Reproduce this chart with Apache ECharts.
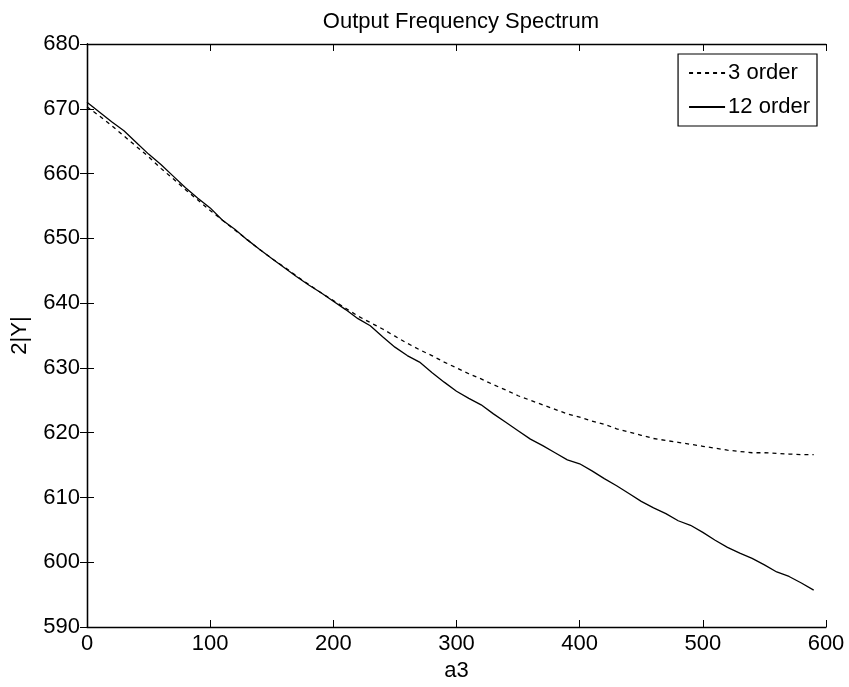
<!DOCTYPE html>
<html>
<head>
<meta charset="utf-8">
<script src="https://cdn.jsdelivr.net/npm/echarts@6/dist/echarts.min.js"></script>
<style>
html,body{margin:0;padding:0;background:#fff;}
#chart{width:849px;height:687px;}
</style>
</head>
<body>
<div id="chart"></div>
<script>
const a3 = [0,10,20,30,40,50,60,70,80,90,100,110,120,130,140,150,160,170,180,190,200,210,220,230,240,250,260,270,280,290,300,310,320,330,340,350,360,370,380,390,400,410,420,430,440,450,460,470,480,490,500,510,520,530,540,550,560,570,580,590];
const order3 = [670.3,668.9,667.4,665.8,664.2,662.6,660.8,659.2,657.5,655.9,654.3,652.8,651.3,649.8,648.3,646.9,645.6,644.2,642.9,641.6,640.4,639.2,638.0,637.0,636.0,634.9,633.8,632.8,631.9,630.9,630.0,629.1,628.3,627.4,626.6,625.7,625.0,624.3,623.6,622.9,622.4,621.8,621.3,620.6,620.1,619.6,619.1,618.8,618.5,618.2,617.9,617.6,617.3,617.1,616.9,616.9,616.8,616.7,616.6,616.6];
const order12 = [671.0,669.5,668.0,666.6,664.8,663.0,661.4,659.6,657.8,656.2,654.7,652.8,651.4,649.8,648.3,646.9,645.5,644.1,642.8,641.6,640.3,639.0,637.6,636.5,634.8,633.2,631.9,630.9,629.3,627.8,626.4,625.3,624.3,622.9,621.6,620.3,619.0,618.0,616.9,615.8,615.2,614.1,612.9,611.8,610.6,609.4,608.4,607.5,606.4,605.7,604.6,603.4,602.3,601.4,600.6,599.6,598.5,597.8,596.8,595.7];
const seriesNames = ['3 order', '12 order'];
const titleText = 'Output Frequency Spectrum';
const xName = 'a3';
const yName = '2|Y|';

const FONT = '"Liberation Sans", Arial, sans-serif';
const chart = echarts.init(document.getElementById('chart'), null, {renderer: 'canvas'});
const axisCommon = {
  axisLine: {show: true, lineStyle: {color: '#000', width: 1.3}},
  axisTick: {show: true, inside: true, length: 7, lineStyle: {color: '#000', width: 1}},
  splitLine: {show: false}
};
chart.setOption({
  animation: false,
  backgroundColor: '#fff',
  title: {
    text: titleText, left: 456, top: 6, textAlign: 'center',
    textStyle: {fontFamily: FONT, fontSize: 22, fontWeight: 'normal', color: '#000'}
  },
  grid: {left: 87, right: 23, top: 44, bottom: 60},
  legend: {
    data: seriesNames, orient: 'vertical', right: 32, top: 54,
    itemWidth: 36, itemHeight: 14, itemGap: 12,
    padding: [8, 7, 8, 10],
    borderColor: '#000', borderWidth: 1.2, backgroundColor: '#fff',
    itemStyle: {color: 'rgba(0,0,0,0)', borderWidth: 0, opacity: 0},
    textStyle: {fontFamily: FONT, fontSize: 22, color: '#000', padding: [0,0,0,-2]}
  },
  xAxis: [
    Object.assign({}, axisCommon, {
      type: 'value', min: 0, max: 600, interval: 100, position: 'bottom',
      name: xName, nameLocation: 'middle', nameGap: 32,
      nameTextStyle: {fontFamily: FONT, fontSize: 22, color: '#000'},
      axisLabel: {fontFamily: FONT, fontSize: 22, color: '#000', margin: 6}
    }),
    Object.assign({}, axisCommon, {
      type: 'value', min: 0, max: 600, interval: 100, position: 'top',
      axisLabel: {show: false}
    })
  ],
  yAxis: [
    Object.assign({}, axisCommon, {
      type: 'value', min: 590, max: 680, interval: 10, position: 'left',
      name: yName, nameLocation: 'middle', nameGap: 56,
      nameTextStyle: {fontFamily: FONT, fontSize: 22, color: '#000'},
      axisLabel: {fontFamily: FONT, fontSize: 22, color: '#000', margin: 7}
    }),
    Object.assign({}, axisCommon, {
      type: 'value', min: 590, max: 680, interval: 10, position: 'right',
      axisLabel: {show: false}
    })
  ],
  series: [
    {
      name: seriesNames[0], type: 'line', xAxisIndex: 0, yAxisIndex: 0,
      data: a3.map((x, i) => [x, order3[i]]),
      symbol: 'none', smooth: false,
      lineStyle: {color: '#000', width: 1.3, type: [4, 4]},
      itemStyle: {color: '#000'}
    },
    {
      name: seriesNames[1], type: 'line', xAxisIndex: 0, yAxisIndex: 0,
      data: a3.map((x, i) => [x, order12[i]]),
      symbol: 'none', smooth: false,
      lineStyle: {color: '#000', width: 1.3, type: 'solid'},
      itemStyle: {color: '#000'}
    }
  ]
});
</script>
</body>
</html>
